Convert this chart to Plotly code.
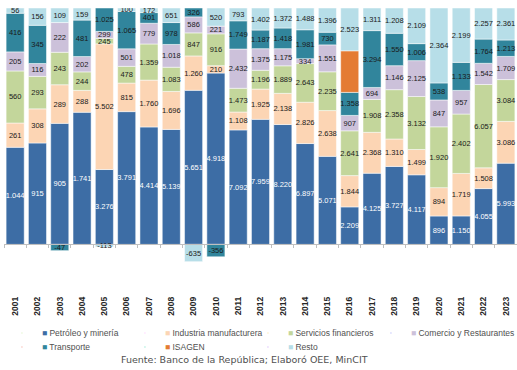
import plotly.graph_objects as go

# Inversión extranjera directa por sector (US$ millones)
years = ["2001", "2002", "2003", "2004", "2005", "2006", "2007", "2008", "2009", "2010",
         "2011", "2012", "2013", "2014", "2015", "2016", "2017", "2018", "2019", "2020",
         "2021", "2022", "2023"]

petroleo = [1044, 915, 905, 1741, 3276, 3791, 4414, 5139, 5651, 4918, 7092, 7959,
            8220, 6897, 5071, 2209, 4125, 3727, 4117, 896, 1150, 4055, 5993]
industria = [261, 308, 289, 288, 5502, 815, 1760, 1696, 1260, 210, 1108, 1925,
             2138, 2826, 2638, 1844, 2368, 1310, 1499, 894, 1719, 1508, 3086]
servicios = [560, 293, 243, 244, 245, 478, 1359, 1083, 847, 916, 1473, 1196,
             1889, 2643, 2235, 2641, 1908, 2358, 3132, 1920, 2402, 6057, 3084]
comercio = [205, 116, 222, 202, 299, 501, 779, 1018, 586, 221, 2432, 1375,
            1175, 334, 1551, 907, 694, 1146, 2125, 847, 957, 1542, 1709]
transporte = [416, 345, -47, 481, 1025, 1065, 401, 978, 326, -356, 1749, 1187,
              1418, 1981, 730, 1358, 3294, 1550, 1006, 538, 1133, 1764, 1213]
isagen = [None, None, None, None, None, None, None, None, None, None, None, None,
          None, None, None, 2450, None, None, None, None, None, None, None]
resto = [56, 156, 109, 159, -113, 100, 172, 651, -635, 520, 793, 1402,
         1372, 1488, 1396, 2523, 1311, 1208, 2109, 2364, 2199, 2257, 2361]

# name, values, fill colour, label colour, show labels
series = [
    ("Petróleo y minería", petroleo, "#3D6DA5", "white", True),
    ("Industria manufacturera", industria, "#FCD5B4", "#1a1a1a", True),
    ("Servicios financieros", servicios, "#C3D69B", "#1a1a1a", True),
    ("Comercio y Restaurantes", comercio, "#CCC1DA", "#1a1a1a", True),
    ("Transporte", transporte, "#31859C", "#1a1a1a", True),
    ("ISAGEN", isagen, "#E47B33", "#1a1a1a", False),
    ("Resto", resto, "#B7DEE8", "#1a1a1a", True),
]

# each column is scaled to the sum of its positive flows (= 100 %)
pos_total = [
    sum(v for v in col if v is not None and v > 0)
    for col in zip(*[s[1] for s in series])
]


def fmt(v):
    return f"{v:,}".replace(",", ".")


fig = go.Figure()
for name, vals, color, tcolor, labelled in series:
    share = [None if v is None else v / t * 100 for v, t in zip(vals, pos_total)]
    text = [fmt(v) if (v is not None and labelled) else "" for v in vals]
    fig.add_trace(go.Bar(
        x=years, y=share, name=name,
        marker=dict(color=color, line=dict(color="white", width=0.5)),
        text=text, textposition="inside", insidetextanchor="middle",
        textangle=0, constraintext="none",
        textfont=dict(color=tcolor, size=7.5,
                      family="Liberation Sans Narrow, Liberation Sans, Arial"),
        customdata=[fmt(v) if v is not None else "" for v in vals],
        hovertemplate="%{x}<br>" + name + ": %{customdata}<extra></extra>",
        showlegend=False,
    ))

# legend entries: two rows, small square swatches
for i, (name, vals, color, tcolor, labelled) in enumerate(series):
    fig.add_trace(go.Scatter(
        x=[None], y=[None], mode="markers",
        marker=dict(size=1, opacity=0),
        name=f"<span style='color:{color}'>■</span> {name}",
        legend="legend" if i < 4 else "legend2",
        legendwidth=100 if i == 3 else None,
        hoverinfo="skip",
    ))

legend_font = dict(size=8.5, color="#505050",
                   family="Liberation Sans Narrow, Liberation Sans, Arial")
common_legend = dict(orientation="h", xanchor="left", yanchor="middle",
                     font=legend_font, entrywidth=78, entrywidthmode="pixels",
                     bgcolor="rgba(0,0,0,0)", itemclick=False, itemdoubleclick=False)

fig.update_layout(
    width=517, height=370,
    margin=dict(l=4, r=0, t=8, b=102),
    paper_bgcolor="white", plot_bgcolor="white",
    barmode="relative", bargap=0.19,
    uniformtext=dict(minsize=7.5, mode="show"),
    xaxis=dict(
        type="category", anchor="free", position=10 / 110,
        showline=True, linecolor="#bfbfbf", linewidth=1,
        ticks="outside", tickson="boundaries", ticklen=3, tickcolor="#bfbfbf",
        tickangle=-90, ticklabelstandoff=48,
        tickfont=dict(size=8.5, color="#262626",
                      family="Liberation Sans, Arial", weight="bold"),
        showgrid=False, fixedrange=True,
    ),
    yaxis=dict(range=[-10, 100], visible=False, showgrid=False,
               zeroline=False, fixedrange=True),
    legend=dict(x=-0.004, y=-0.25, **common_legend),
    legend2=dict(x=-0.004, y=-0.304, **common_legend),
    annotations=[dict(
        text="Fuente: Banco de la República; Elaboró OEE, MinCIT",
        xref="paper", yref="paper", x=0.468, y=-0.35,
        xanchor="center", yanchor="middle", showarrow=False,
        font=dict(size=9.5, color="#505050", family="DejaVu Sans, Verdana"),
    )],
)

fig.write_html("out.html")
